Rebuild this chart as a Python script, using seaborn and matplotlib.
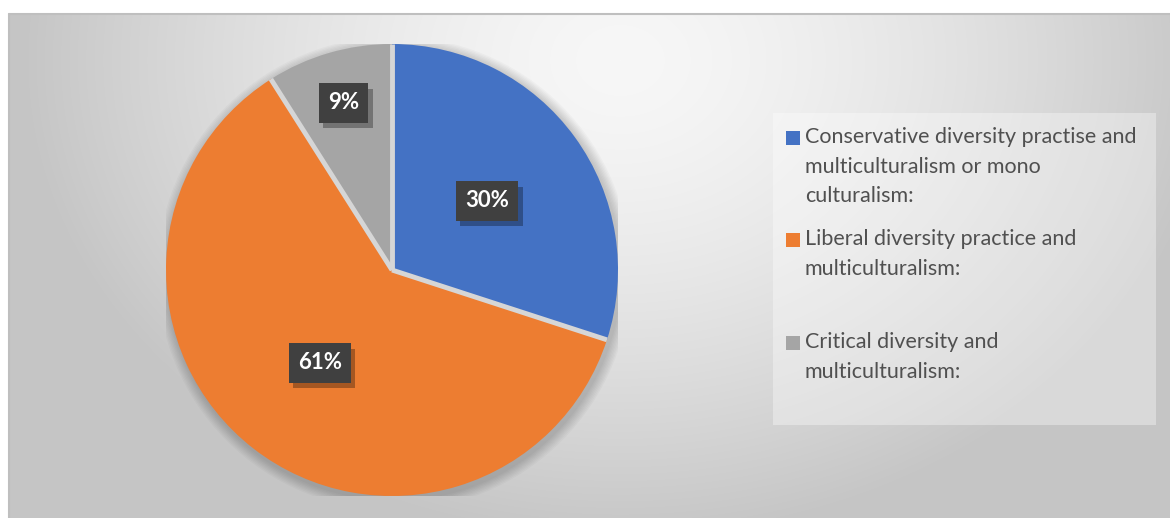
import numpy as np
import matplotlib
matplotlib.use("Agg")
import matplotlib.pyplot as plt
import matplotlib.patheffects as pe
from matplotlib.patches import Rectangle, Circle
import seaborn as sns

# ---- data ----
categories = [
    "Conservative diversity practise and\nmulticulturalism or mono\nculturalism:",
    "Liberal diversity practice and\nmulticulturalism:",
    "Critical diversity and\nmulticulturalism:",
]
values = [30, 61, 9]
pct_labels = ["30%", "61%", "9%"]
colors = ["#4472C4", "#ED7D31", "#A5A5A5"]
label_radius = [0.52, 0.52, 0.77]

sns.set_theme(style="white")
plt.rcParams["font.family"] = ["Lato", "DejaVu Sans"]

W, H = 1170, 518
fig = plt.figure(figsize=(W / 100, H / 100), dpi=100)
fig.patch.set_facecolor("white")

# ---- background gradient (chart area) ----
x0, y0 = 9, 14
bg = fig.add_axes([x0 / W, 0, (W - x0) / W, (H - y0) / H], zorder=-5)
xs = np.arange(x0, W)
ys = np.arange(y0, H)
X, Y = np.meshgrid(xs, ys)
d = np.sqrt(((X - 620) / 600.0) ** 2 + ((Y - 60) / 480.0) ** 2)
d = np.clip(d, 0, 1) ** 1.5
val = (247 - (247 - 197) * d) / 255.0
img = np.dstack([val, val, val])
bg.imshow(img, extent=[0, 1, 0, 1], aspect="auto", origin="upper")
bg.set_xlim(0, 1)
bg.set_ylim(0, 1)
bg.axis("off")
fig.add_artist(plt.Line2D([x0 / W, 1], [1 - y0 / H, 1 - y0 / H], color="#bfbfbf", lw=1.5))
fig.add_artist(plt.Line2D([x0 / W, x0 / W], [0, 1 - y0 / H], color="#bfbfbf", lw=1.5))

# ---- pie ----
cx, cy, R = 392, 270, 226
ax = fig.add_axes([(cx - R) / W, (H - cy - R) / H, 2 * R / W, 2 * R / H])
ax.set_facecolor("none")
for i in range(8):
    ax.add_patch(Circle((0.01, -0.015), 1.0 + 0.006 * (8 - i), color="black",
                        alpha=0.025, lw=0, zorder=0))
wedges, _ = ax.pie(values, colors=colors, startangle=90, counterclock=False,
                   radius=1.0, wedgeprops=dict(linewidth=0))
for w in wedges:
    w.set_zorder(2)
# separators between slices
for w in wedges:
    a = np.deg2rad(w.theta1)
    ax.plot([0, np.cos(a)], [0, np.sin(a)], color="#d6d6d6", lw=3.5,
            solid_capstyle="butt", zorder=3)
ax.set_xlim(-1, 1)
ax.set_ylim(-1, 1)
ax.axis("off")

for w, lab, r in zip(wedges, pct_labels, label_radius):
    ang = np.deg2rad((w.theta1 + w.theta2) / 2)
    px, py = r * np.cos(ang), r * np.sin(ang)
    t = ax.text(px, py, lab, ha="center", va="center", fontsize=16,
                fontweight="bold", color="white",
                bbox=dict(boxstyle="square,pad=0.42", fc="#404040", ec="none"),
                zorder=4)
    t.get_bbox_patch().set_path_effects([
        pe.SimplePatchShadow(offset=(3, -4), shadow_rgbFace="black", alpha=0.3),
        pe.Normal()])

# ---- legend ----
fig.add_artist(Rectangle((773 / W, 1 - 425 / H), (1156 - 773) / W, (425 - 113) / H,
                         transform=fig.transFigure, fc="white", alpha=0.35, ec="none"))
entry_top = [131, 233, 336]
for cat, col, top in zip(categories, colors, entry_top):
    fig.add_artist(Rectangle((786 / W, 1 - (top + 14) / H), 14 / W, 14 / H,
                             transform=fig.transFigure, fc=col, ec="none"))
    fig.text(805 / W, 1 - (top - 4) / H, cat, ha="left", va="top", fontsize=15.5,
             color="#505050", linespacing=1.6)

fig.savefig("out.png", dpi=100, facecolor=fig.get_facecolor())
